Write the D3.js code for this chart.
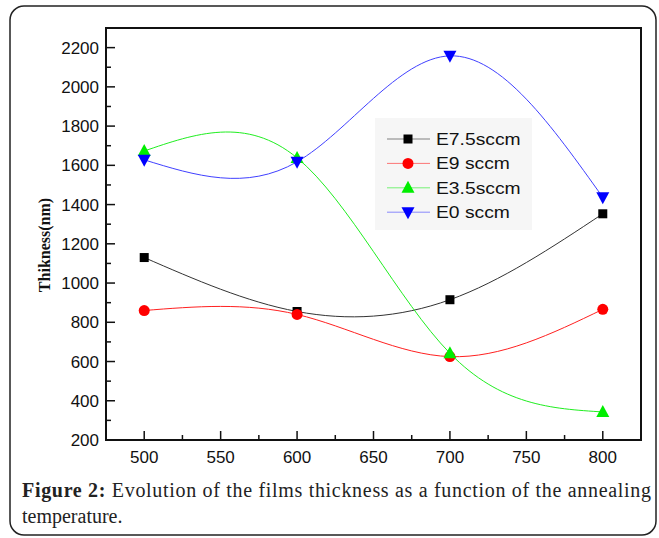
<!DOCTYPE html>
<html>
<head>
<meta charset="utf-8">
<script src="https://cdn.jsdelivr.net/npm/d3@7"></script>
<style>
  body { margin: 0; background: #fff; }
  svg { display: block; }
</style>
</head>
<body>
<svg id="chart" width="659" height="538"></svg>
<script>
// annealing temperatures
let temps = [500, 600, 700, 800];

// thickness (nm) per series
let e75 = [1130, 855, 915, 1353];
let e9 = [860, 840, 625, 866];
let e35 = [1673, 1638, 642, 343];
let e0 = [1628, 1618, 2158, 1437];

let seriesNames = ["E7.5sccm", "E9 sccm", "E3.5sccm", "E0 sccm"];
let seriesColors = ["#000000", "#ff0000", "#00ee00", "#0000ff"];
let lineColors = ["#333333", "#ff2020", "#20ee20", "#4040ff"];
let seriesShapes = ["square", "circle", "up", "down"];

let yTicks = [200, 400, 600, 800, 1000, 1200, 1400, 1600, 1800, 2000, 2200];
let xTicks = [500, 550, 600, 650, 700, 750, 800];

let allSeries = [e75, e9, e35, e0];

let svg = d3.select("#chart");

// outer rounded frame
svg.append("rect")
    .attr("x", 10)
    .attr("y", 6)
    .attr("width", 646)
    .attr("height", 529)
    .attr("rx", 14)
    .attr("fill", "none")
    .attr("stroke", "#222")
    .attr("stroke-width", 1.5);

let pLeft = 106, pTop = 28, pRight = 641, pBottom = 440;

let x = d3.scaleLinear().domain([475, 825]).range([pLeft, pRight]);
let y = d3.scaleLinear().domain([200, 2300]).range([pBottom, pTop]);

// minor ticks
let xMinor = d3.range(525, 825, 50);
let yMinor = d3.range(300, 2300, 200);

let g = svg.append("g");

// ticks point inward
g.selectAll(".ymaj").data(yTicks).enter().append("line")
    .attr("x1", pLeft).attr("x2", pLeft + 9)
    .attr("y1", d => y(d)).attr("y2", d => y(d))
    .attr("stroke", "#111").attr("stroke-width", 1.5);
g.selectAll(".ymin").data(yMinor).enter().append("line")
    .attr("x1", pLeft).attr("x2", pLeft + 5)
    .attr("y1", d => y(d)).attr("y2", d => y(d))
    .attr("stroke", "#111").attr("stroke-width", 1.5);
g.selectAll(".xmaj").data(xTicks).enter().append("line")
    .attr("x1", d => x(d)).attr("x2", d => x(d))
    .attr("y1", pBottom).attr("y2", pBottom - 9)
    .attr("stroke", "#111").attr("stroke-width", 1.5);
g.selectAll(".xmin").data(xMinor).enter().append("line")
    .attr("x1", d => x(d)).attr("x2", d => x(d))
    .attr("y1", pBottom).attr("y2", pBottom - 5)
    .attr("stroke", "#111").attr("stroke-width", 1.5);

// tick labels
g.selectAll(".ylab").data(yTicks).enter().append("text")
    .attr("x", pLeft - 7)
    .attr("y", d => y(d))
    .attr("dy", "0.36em")
    .attr("text-anchor", "end")
    .attr("font-family", "Liberation Sans, Arial, sans-serif")
    .attr("font-size", "17px")
    .attr("fill", "#111")
    .text(d => d);
g.selectAll(".xlab").data(xTicks).enter().append("text")
    .attr("x", d => x(d))
    .attr("y", pBottom + 23)
    .attr("text-anchor", "middle")
    .attr("font-family", "Liberation Sans, Arial, sans-serif")
    .attr("font-size", "17px")
    .attr("fill", "#111")
    .text(d => d);

// y axis title
svg.append("text")
    .attr("transform", "translate(50, 245) rotate(-90)")
    .attr("text-anchor", "middle")
    .attr("font-family", "Liberation Serif, Times New Roman, serif")
    .attr("font-weight", "bold")
    .attr("font-size", "16px")
    .attr("fill", "#111")
    .text("Thikness(nm)");

// curves
let line = d3.line()
    .x((d, i) => x(temps[i]))
    .y(d => y(d))
    .curve(d3.curveNatural);

allSeries.forEach((s, k) => {
    svg.append("path")
        .attr("d", line(s))
        .attr("fill", "none")
        .attr("stroke", lineColors[k])
        .attr("stroke-width", 1);
});

// marker drawing
function drawMarker(sel, shape, color, cx, cy) {
    if (shape === "square") {
        sel.append("rect")
            .attr("x", cx - 4.5).attr("y", cy - 4.5)
            .attr("width", 9).attr("height", 9)
            .attr("fill", color);
    } else if (shape === "circle") {
        sel.append("circle")
            .attr("cx", cx).attr("cy", cy).attr("r", 5.5)
            .attr("fill", color);
    } else if (shape === "up") {
        sel.append("path")
            .attr("d", `M${cx},${cy - 7}L${cx + 6.5},${cy + 5}L${cx - 6.5},${cy + 5}Z`)
            .attr("fill", color);
    } else {
        sel.append("path")
            .attr("d", `M${cx},${cy + 7}L${cx + 6.5},${cy - 5}L${cx - 6.5},${cy - 5}Z`)
            .attr("fill", color);
    }
}

let markers = svg.append("g");
allSeries.forEach((s, k) => {
    s.forEach((v, i) => {
        drawMarker(markers, seriesShapes[k], seriesColors[k], x(temps[i]), y(v));
    });
});

// plot frame
svg.append("rect")
    .attr("x", pLeft).attr("y", pTop)
    .attr("width", pRight - pLeft).attr("height", pBottom - pTop)
    .attr("fill", "none")
    .attr("stroke", "#111")
    .attr("stroke-width", 2);

// legend
let legend = svg.append("g");
legend.append("rect")
    .attr("x", 375).attr("y", 118)
    .attr("width", 157).attr("height", 112)
    .attr("fill", "#f6f6f6");

seriesNames.forEach((name, k) => {
    let ly = 139 + k * 24.4;
    legend.append("line")
        .attr("x1", 387).attr("x2", 430)
        .attr("y1", ly).attr("y2", ly)
        .attr("stroke", lineColors[k])
        .attr("stroke-opacity", 0.6)
        .attr("stroke-width", 1);
    drawMarker(legend, seriesShapes[k], seriesColors[k], 408, ly);
    // text in the original is slightly stretched horizontally
    legend.append("text")
        .attr("transform", `translate(436, ${ly}) scale(1.17, 1)`)
        .attr("dy", "0.36em")
        .attr("font-family", "Liberation Sans, Arial, sans-serif")
        .attr("font-size", "16.5px")
        .attr("fill", "#111")
        .text(name);
});

// caption
let cap = svg.append("text")
    .attr("x", 22)
    .attr("y", 497)
    .attr("font-family", "Liberation Serif, Times New Roman, serif")
    .attr("font-size", "20px")
    .attr("fill", "#222")
    .attr("textLength", 629)
    .attr("lengthAdjust", "spacing");
cap.append("tspan").attr("font-weight", "bold").text("Figure 2:");
cap.append("tspan").text(" Evolution of the films thickness as a function of the annealing");

svg.append("text")
    .attr("x", 22)
    .attr("y", 523)
    .attr("font-family", "Liberation Serif, Times New Roman, serif")
    .attr("font-size", "20px")
    .attr("fill", "#222")
    .text("temperature.");
</script>
</body>
</html>
